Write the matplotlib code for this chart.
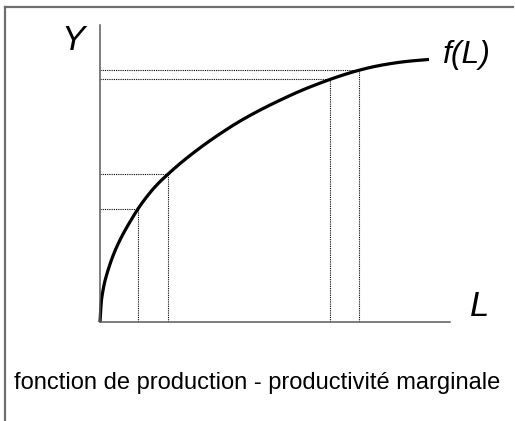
import matplotlib
matplotlib.use("Agg")
import matplotlib.pyplot as plt
from matplotlib.lines import Line2D
from matplotlib.path import Path
from matplotlib.patches import PathPatch

plt.rcParams['font.family'] = ['Liberation Sans', 'DejaVu Sans']

# production curve f(L)
L_curve = [0, 0.029, 0.057, 0.114, 0.171, 0.257, 0.371, 0.514, 0.686, 0.886,
           1.086, 1.314, 1.6, 1.943, 2.286, 2.714, 3.143, 3.571, 4.0, 4.571,
           5.143, 5.714, 6.143, 6.571, 7.0, 7.4, 7.857, 8.286, 8.714, 9.086, 9.4]
Y_curve = [0, 0.62, 0.88, 1.25, 1.52, 1.85, 2.24, 2.63, 3.03, 3.43,
           3.82, 4.19, 4.60, 4.98, 5.34, 5.74, 6.11, 6.45, 6.77, 7.14,
           7.47, 7.78, 7.98, 8.17, 8.34, 8.48, 8.61, 8.70, 8.77, 8.81, 8.84]

# points marked with dotted guides
L_marks = [1.086, 1.943, 6.571, 7.4]
Y_marks = [3.82, 4.98, 8.17, 8.48]

W, H = 515, 421
fig = plt.figure(figsize=(W / 100, H / 100), dpi=100)

# outer frame (top and left only)
border = '#6e6e6e'
fig.add_artist(Line2D([5 / W, 513 / W], [1 - 7 / H, 1 - 7 / H], color=border, lw=1.6))
fig.add_artist(Line2D([5 / W, 5 / W], [1 - 7 / H, 0], color=border, lw=1.6))

ax = fig.add_axes([100 / W, (H - 322) / H, 350 / W, 297 / H])
ax.set_xlim(0, 10)
ax.set_ylim(0, 10)
for s in ['top', 'right']:
    ax.spines[s].set_visible(False)
for s in ['left', 'bottom']:
    ax.spines[s].set_color('#5a5a5a')
    ax.spines[s].set_linewidth(1.1)
ax.set_xticks([])
ax.set_yticks([])
ax.patch.set_alpha(0)

dot = dict(color='black', lw=0.8, linestyle=(0, (1, 1)))
for lm, ym in zip(L_marks, Y_marks):
    ax.plot([lm, lm], [0, ym], **dot)
    ax.plot([0, lm], [ym, ym], **dot)

# smooth curve: read points used as quadratic control points
pts = list(zip(L_curve, Y_curve))
verts = [pts[0]]
codes = [Path.MOVETO]
for i in range(1, len(pts) - 1):
    mid = ((pts[i][0] + pts[i + 1][0]) / 2, (pts[i][1] + pts[i + 1][1]) / 2)
    if i == len(pts) - 2:
        mid = pts[-1]
    verts += [pts[i], mid]
    codes += [Path.CURVE3, Path.CURVE3]
ax.add_patch(PathPatch(Path(verts, codes), facecolor='none', edgecolor='black',
                       lw=2.3, clip_on=False, capstyle='butt'))

fig.text(73 / W, 1 - 41 / H, 'Y', fontsize=25, style='italic', ha='center', va='center')
fig.text(467 / W, 1 - 55 / H, 'f(L)', fontsize=23, style='italic', ha='center', va='center')
fig.text(480 / W, 1 - 306 / H, 'L', fontsize=25, style='italic', ha='center', va='center')
fig.text(257 / W, 1 - 383 / H, 'fonction de production - productivité marginale',
         fontsize=17, ha='center', va='center')

fig.savefig('out.png', dpi=100)
